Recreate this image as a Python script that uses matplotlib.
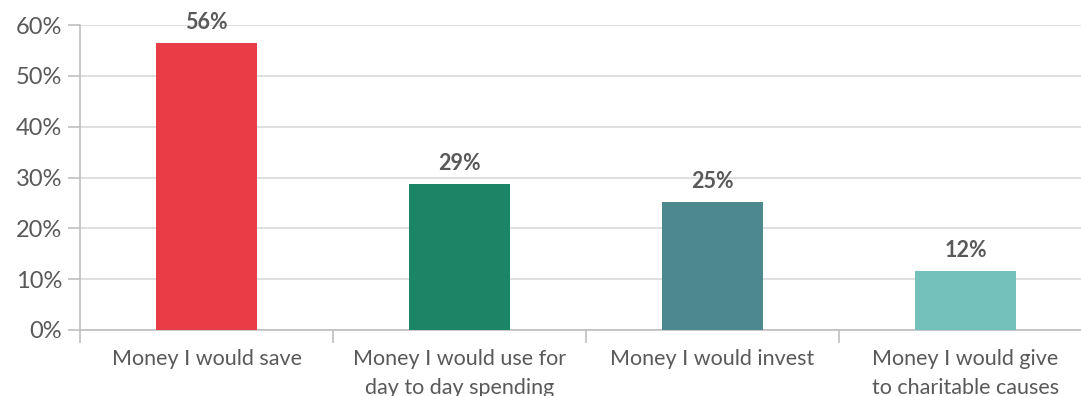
import matplotlib
matplotlib.use('Agg')
import matplotlib.pyplot as plt

categories = ["Money I would save", "Money I would use for\nday to day spending",
              "Money I would invest", "Money I would give\nto charitable causes"]
values = [56.5, 28.7, 25.2, 11.6]
labels = ["56%", "29%", "25%", "12%"]
colors = ["#E83C46", "#1B8566", "#4C888E", "#74C1BC"]

plt.rcParams['font.family'] = ['Lato', 'DejaVu Sans']
text_col = "#595959"
grid_col = "#D9D9D9"

fig = plt.figure(figsize=(10.81, 3.96), dpi=100)
ax = fig.add_axes([80 / 1081, 66 / 396, 1012 / 1081, 305 / 396])

x = list(range(len(categories)))
ax.bar(x, values, width=0.4, color=colors, zorder=3)
for xi, v, lab in zip(x, values, labels):
    ax.text(xi, v + 1.9, lab, ha='center', va='bottom', fontsize=15.5,
            fontweight='bold', color=text_col)

ax.set_xlim(-0.5, len(categories) - 0.5)
ax.set_ylim(0, 60)
ax.set_yticks(range(0, 61, 10))
ax.set_yticklabels([f"{t}%" for t in range(0, 61, 10)])
ax.yaxis.grid(True, color=grid_col, linewidth=1.2, zorder=0)

# category labels at centers, ticks at the boundaries
ax.set_xticks(x)
ax.set_xticklabels(categories)
ax.set_xticks([i - 0.5 for i in range(len(categories) + 1)], minor=True)
ax.tick_params(axis='x', which='major', length=0, pad=14, labelsize=15.5,
               labelcolor=text_col)
ax.tick_params(axis='x', which='minor', length=9, width=1.2, color='#BFBFBF')
ax.tick_params(axis='y', length=9, width=1.2, color='#BFBFBF', pad=4,
               labelsize=17, labelcolor=text_col)
for lab in ax.get_xticklabels():
    lab.set_linespacing(1.55)

for s in ['top', 'right']:
    ax.spines[s].set_visible(False)
for s in ['left', 'bottom']:
    ax.spines[s].set_color('#BFBFBF')
    ax.spines[s].set_linewidth(1.2)

fig.savefig("out.png", dpi=100)
